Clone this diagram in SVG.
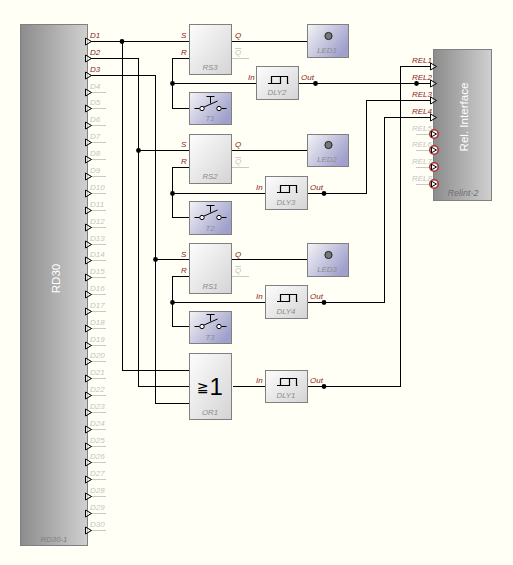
<svg xmlns="http://www.w3.org/2000/svg" xmlns:xlink="http://www.w3.org/1999/xlink" width="513" height="565" viewBox="0 0 513 565">
<style>
text{font-family:"Liberation Sans",Arial,sans-serif;font-size:8px;font-style:italic}
.on{fill:#8a1c1c}
.off{fill:#c4c4c4}
.nm{fill:#8c8c8c;text-anchor:middle;font-size:7.8px}
.w{fill:none;stroke:#000;stroke-width:1;shape-rendering:crispEdges}
.s{fill:none;stroke:#c8c8c8;stroke-width:1;shape-rendering:crispEdges}
.big{fill:url(#gBig);stroke:#808080;stroke-width:1}
.blk{fill:url(#gBlk);stroke:#808080;stroke-width:1}
.led{fill:url(#gLed);stroke:#808080;stroke-width:1}
</style>
<defs>
<linearGradient id="gBig" x1="0" y1="0" x2="1" y2="0"><stop offset="0" stop-color="#8c8c8c"/><stop offset="1" stop-color="#d0d0d0"/></linearGradient>
<linearGradient id="gBlk" x1="0" y1="0" x2="1" y2="1"><stop offset="0" stop-color="#fdfdfd"/><stop offset="1" stop-color="#d4d4d4"/></linearGradient>
<linearGradient id="gLed" x1="0" y1="0" x2="1" y2="0.6"><stop offset="0" stop-color="#f4f4f6"/><stop offset="1" stop-color="#a0a0cc"/></linearGradient>
<path id="pin" d="M-4.5-3.5L1.5 0L-4.5 3.5Z" fill="#fff" fill-opacity=".5" stroke="#000" stroke-width="1"/>
<circle id="dot" r="2.4" fill="#000"/>
<path id="pulse" d="M0 7.5H3.5V0.5H12.5V7.5H0M12.5 0.5H19.5V7.5H20.5" fill="none" stroke="#000" stroke-width="1.2"/>
<g id="sw" fill="none" stroke="#000"><path d="M-16 0H-11M11 0H16M-7.5-1L7-7.5M-4-12H4M0-12V-5"/><circle cx="-8.5" cy="0" r="2.2" fill="#fff"/><circle cx="8.5" cy="0" r="2.2" fill="#fff"/></g>
<g id="ledlamp"><circle r="3.6" fill="#777" stroke="#222" stroke-width="1"/></g>
<g id="bad"><circle r="4.2" fill="#fff" stroke="#b03030" stroke-width="1.6"/><path d="M-2.5-2.8L2.5 0L-2.5 2.8Z" fill="#fff" stroke="#000"/></g>
</defs>
<rect width="513" height="565" fill="#fffff6"/>

<g id="connectors">
<path class="w" d="M90 41.5H189.5M122.5 41.5V370.5H189.5"/>
<path class="w" d="M90 58.5H138.5V386.5H189.5M138.5 150.5H189.5"/>
<path class="w" d="M90 75.5H155.5V403.5H189.5M155.5 259.5H189.5"/>
<path class="w" d="M231.5 41.5H307.5M231.5 150.5H307.5M231.5 259.5H307.5"/>
<path class="w" d="M189.5 58.5H172.5V108.5H189.5M172.5 83.5H256.5M298.5 83.5H431"/>
<path class="w" d="M189.5 167.5H172.5V217.5H189.5M172.5 193.5H265.5M307.5 193.5H366.5V100.5H431"/>
<path class="w" d="M189.5 276.5H172.5V326.5H189.5M172.5 302.5H265.5M307.5 302.5H384.5V117.5H431"/>
<path class="w" d="M232.5 386.5H265.5M307.5 386.5H400.5V66.5H431"/>
<path class="s" d="M232 58.5H249M232 167.5H249M232 276.5H249"/>
<path class="s" d="M90 92.5H106M90 108.5H106M90 125.5H106M90 142.5H106M90 159.5H106M90 176.5H106M90 193.5H106M90 210.5H106M90 227.5H106M90 244.5H106M90 260.5H106M90 277.5H106M90 294.5H106M90 311.5H106M90 328.5H106M90 345.5H106M90 361.5H106M90 378.5H106M90 395.5H106M90 412.5H106M90 429.5H106M90 446.5H106M90 462.5H106M90 479.5H106M90 496.5H106M90 513.5H106M90 530.5H106"/>
<path class="s" d="M416 134.5H430M416 150.5H430M416 167.5H430M416 184.5H430"/>
<use xlink:href="#dot" href="#dot" x="122" y="41.5"/>
<use xlink:href="#dot" href="#dot" x="138.5" y="150.5"/>
<use xlink:href="#dot" href="#dot" x="155.5" y="259.5"/>
<use xlink:href="#dot" href="#dot" x="172.5" y="83.5"/>
<use xlink:href="#dot" href="#dot" x="172.5" y="193.5"/>
<use xlink:href="#dot" href="#dot" x="172.5" y="302.5"/>
<use xlink:href="#dot" href="#dot" x="315.5" y="83.5"/>
<use xlink:href="#dot" href="#dot" x="324" y="193.5"/>
<use xlink:href="#dot" href="#dot" x="324" y="302.5"/>
<use xlink:href="#dot" href="#dot" x="324" y="386.5"/>
<use xlink:href="#dot" href="#dot" x="416.5" y="83.5"/>
</g>

<g id="RD30-1">
<rect class="big" x="20.5" y="24.5" width="67" height="521"/>
<text transform="translate(59.5,278.5) rotate(-90)" text-anchor="middle" style="font-style:normal;font-size:11.6px;fill:#fff">RD30</text>
<text class="nm" x="54" y="542" style="fill:#808080">RD30-1</text>
<g>
<use xlink:href="#pin" href="#pin" x="90" y="41.5"/><use xlink:href="#pin" href="#pin" x="90" y="58.5"/><use xlink:href="#pin" href="#pin" x="90" y="75.5"/><use xlink:href="#pin" href="#pin" x="90" y="92.5"/><use xlink:href="#pin" href="#pin" x="90" y="108.5"/><use xlink:href="#pin" href="#pin" x="90" y="125.5"/><use xlink:href="#pin" href="#pin" x="90" y="142.5"/><use xlink:href="#pin" href="#pin" x="90" y="159.5"/><use xlink:href="#pin" href="#pin" x="90" y="176.5"/><use xlink:href="#pin" href="#pin" x="90" y="193.5"/><use xlink:href="#pin" href="#pin" x="90" y="210.5"/><use xlink:href="#pin" href="#pin" x="90" y="227.5"/><use xlink:href="#pin" href="#pin" x="90" y="244.5"/><use xlink:href="#pin" href="#pin" x="90" y="260.5"/><use xlink:href="#pin" href="#pin" x="90" y="277.5"/><use xlink:href="#pin" href="#pin" x="90" y="294.5"/><use xlink:href="#pin" href="#pin" x="90" y="311.5"/><use xlink:href="#pin" href="#pin" x="90" y="328.5"/><use xlink:href="#pin" href="#pin" x="90" y="345.5"/><use xlink:href="#pin" href="#pin" x="90" y="361.5"/><use xlink:href="#pin" href="#pin" x="90" y="378.5"/><use xlink:href="#pin" href="#pin" x="90" y="395.5"/><use xlink:href="#pin" href="#pin" x="90" y="412.5"/><use xlink:href="#pin" href="#pin" x="90" y="429.5"/><use xlink:href="#pin" href="#pin" x="90" y="446.5"/><use xlink:href="#pin" href="#pin" x="90" y="462.5"/><use xlink:href="#pin" href="#pin" x="90" y="479.5"/><use xlink:href="#pin" href="#pin" x="90" y="496.5"/><use xlink:href="#pin" href="#pin" x="90" y="513.5"/><use xlink:href="#pin" href="#pin" x="90" y="530.5"/>
</g>
<text class="on" x="90" y="38">D1</text><text class="on" x="90" y="55">D2</text><text class="on" x="90" y="72">D3</text>
<text class="off" x="90" y="89">D4</text><text class="off" x="90" y="105">D5</text><text class="off" x="90" y="122">D6</text><text class="off" x="90" y="139">D7</text><text class="off" x="90" y="156">D8</text><text class="off" x="90" y="173">D9</text><text class="off" x="90" y="190">D10</text><text class="off" x="90" y="207">D11</text><text class="off" x="90" y="224">D12</text><text class="off" x="90" y="241">D13</text><text class="off" x="90" y="257">D14</text><text class="off" x="90" y="274">D15</text><text class="off" x="90" y="291">D16</text><text class="off" x="90" y="308">D17</text><text class="off" x="90" y="325">D18</text><text class="off" x="90" y="342">D19</text><text class="off" x="90" y="358">D20</text><text class="off" x="90" y="375">D21</text><text class="off" x="90" y="392">D22</text><text class="off" x="90" y="409">D23</text><text class="off" x="90" y="426">D24</text><text class="off" x="90" y="443">D25</text><text class="off" x="90" y="459">D26</text><text class="off" x="90" y="476">D27</text><text class="off" x="90" y="493">D28</text><text class="off" x="90" y="510">D29</text><text class="off" x="90" y="527">D30</text>
</g>

<g id="RS3"><rect class="blk" x="189.5" y="24.5" width="42" height="50"/><text class="nm" x="210" y="70">RS3</text>
<text class="on" x="181" y="38">S</text><text class="on" x="181" y="55">R</text><text class="on" x="235" y="38">Q</text><text class="off" x="235" y="55" text-decoration="overline">Q</text></g>
<g id="RS2"><rect class="blk" x="189.5" y="134.5" width="42" height="49"/><text class="nm" x="210" y="179">RS2</text>
<text class="on" x="181" y="147">S</text><text class="on" x="181" y="164">R</text><text class="on" x="235" y="147">Q</text><text class="off" x="235" y="164" text-decoration="overline">Q</text></g>
<g id="RS1"><rect class="blk" x="189.5" y="243.5" width="42" height="50"/><text class="nm" x="210" y="289">RS1</text>
<text class="on" x="181" y="257">S</text><text class="on" x="181" y="273">R</text><text class="on" x="235" y="257">Q</text><text class="off" x="235" y="273" text-decoration="overline">Q</text></g>

<g id="LED1"><rect class="led" x="307.5" y="24.5" width="41" height="33"/><use xlink:href="#ledlamp" href="#ledlamp" x="328.5" y="36"/><text class="nm" x="327" y="53">LED1</text></g>
<g id="LED2"><rect class="led" x="307.5" y="134.5" width="41" height="32"/><use xlink:href="#ledlamp" href="#ledlamp" x="328.5" y="145"/><text class="nm" x="327" y="162">LED2</text></g>
<g id="LED3"><rect class="led" x="307.5" y="243.5" width="41" height="33"/><use xlink:href="#ledlamp" href="#ledlamp" x="328.5" y="255"/><text class="nm" x="327" y="272">LED3</text></g>

<g id="T1"><rect class="led" x="189.5" y="92.5" width="42" height="32"/><use xlink:href="#sw" href="#sw" x="210.5" y="108.5"/><text class="nm" x="210" y="121">T1</text></g>
<g id="T2"><rect class="led" x="189.5" y="201.5" width="42" height="33"/><use xlink:href="#sw" href="#sw" x="210.5" y="217.5"/><text class="nm" x="210" y="231">T2</text></g>
<g id="T3"><rect class="led" x="189.5" y="311.5" width="42" height="32"/><use xlink:href="#sw" href="#sw" x="210.5" y="326.5"/><text class="nm" x="210" y="340">T3</text></g>

<g id="DLY2"><rect class="blk" x="256.5" y="66.5" width="42" height="33"/><use xlink:href="#pulse" href="#pulse" x="268" y="76"/><text class="nm" x="277" y="95">DLY2</text><text class="on" x="248" y="80">In</text><text class="on" x="301" y="80">Out</text></g>
<g id="DLY3"><rect class="blk" x="265.5" y="176.5" width="42" height="33"/><use xlink:href="#pulse" href="#pulse" x="277" y="185"/><text class="nm" x="286" y="205">DLY3</text><text class="on" x="256" y="190">In</text><text class="on" x="310" y="190">Out</text></g>
<g id="DLY4"><rect class="blk" x="265.5" y="285.5" width="42" height="33"/><use xlink:href="#pulse" href="#pulse" x="277" y="294"/><text class="nm" x="286" y="314">DLY4</text><text class="on" x="256" y="299">In</text><text class="on" x="310" y="299">Out</text></g>
<g id="DLY1"><rect class="blk" x="265.5" y="370.5" width="42" height="32"/><use xlink:href="#pulse" href="#pulse" x="277" y="378"/><text class="nm" x="286" y="398">DLY1</text><text class="on" x="256" y="383">In</text><text class="on" x="310" y="383">Out</text></g>

<g id="OR1"><rect class="blk" x="189.5" y="353.5" width="42" height="66"/>
<text x="197" y="392" style="font-family:'DejaVu Sans',sans-serif;font-style:normal;font-size:14px;fill:#000">≧</text><text x="209.5" y="395" style="font-style:normal;font-size:24px;fill:#000">1</text>
<text class="nm" x="210" y="415">OR1</text></g>

<g id="Relint-2">
<rect class="big" x="433.5" y="49.5" width="58" height="151"/>
<text transform="translate(467.5,117) rotate(-90)" text-anchor="middle" style="font-style:normal;font-size:11.6px;fill:#fff">Rel. Interface</text>
<text class="nm" x="463" y="196" style="fill:#707070;font-size:9px">Relint-2</text>
<use xlink:href="#pin" href="#pin" x="435" y="66.5"/><use xlink:href="#pin" href="#pin" x="435" y="83.5"/><use xlink:href="#pin" href="#pin" x="435" y="100.5"/><use xlink:href="#pin" href="#pin" x="435" y="117.5"/>
<use xlink:href="#bad" href="#bad" x="434" y="134"/><use xlink:href="#bad" href="#bad" x="434" y="150"/><use xlink:href="#bad" href="#bad" x="434" y="167"/><use xlink:href="#bad" href="#bad" x="434" y="184"/>
<text class="on" x="412" y="63">REL1</text><text class="on" x="412" y="80">REL2</text><text class="on" x="412" y="97">REL3</text><text class="on" x="412" y="114">REL4</text>
<text class="off" x="412" y="131">REL5</text><text class="off" x="412" y="147">REL6</text><text class="off" x="412" y="164">REL7</text><text class="off" x="412" y="181">REL8</text>
</g>
</svg>
